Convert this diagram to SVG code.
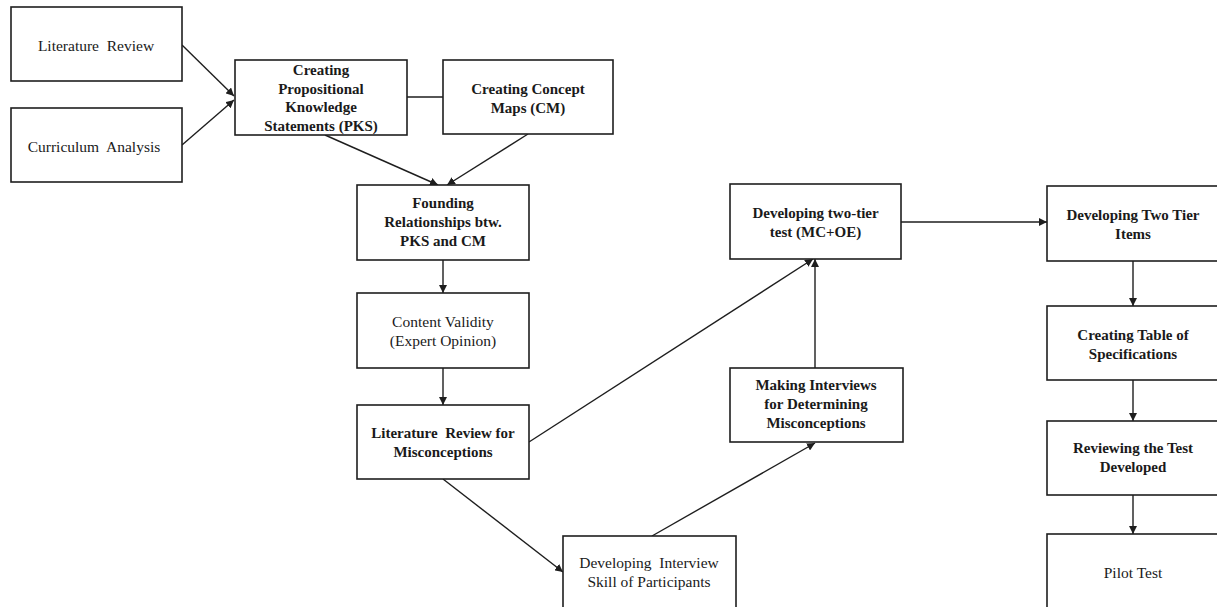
<svg xmlns="http://www.w3.org/2000/svg" width="1217" height="607" viewBox="0 0 1217 607">
<style>
.box{fill:#fff;stroke:#1e1e1e;stroke-width:1.6}
.t{font-family:"Liberation Serif","Times New Roman",serif;font-size:15.5px;fill:#1a1a1a;text-anchor:middle}
.b{font-weight:bold;font-size:15px}
.c{stroke:#1e1e1e;stroke-width:1.4;fill:none}
</style>
<defs>
<marker id="ah" viewBox="0 0 10 10" refX="10" refY="5" markerWidth="8" markerHeight="8" markerUnits="userSpaceOnUse" orient="auto">
<path d="M0,0 L10,5 L0,10 z" fill="#1e1e1e"/>
</marker>
</defs>
<rect width="1217" height="607" fill="#fff"/>
<g id="connectors">
<line class="c" x1="182" y1="45" x2="234" y2="96" marker-end="url(#ah)"/>
<line class="c" x1="182" y1="145" x2="234" y2="100" marker-end="url(#ah)"/>
<line class="c" x1="407" y1="97" x2="443" y2="97"/>
<line class="c" x1="325" y1="135" x2="438" y2="185" marker-end="url(#ah)"/>
<line class="c" x1="528" y1="134" x2="447" y2="185" marker-end="url(#ah)"/>
<line class="c" x1="443" y1="260" x2="443" y2="293" marker-end="url(#ah)"/>
<line class="c" x1="443" y1="368" x2="443" y2="405" marker-end="url(#ah)"/>
<line class="c" x1="529" y1="442" x2="813" y2="259" marker-end="url(#ah)"/>
<line class="c" x1="815" y1="368" x2="815" y2="259" marker-end="url(#ah)"/>
<line class="c" x1="443" y1="479" x2="563" y2="572" marker-end="url(#ah)"/>
<line class="c" x1="652" y1="536" x2="815" y2="443" marker-end="url(#ah)"/>
<line class="c" x1="901" y1="222" x2="1047" y2="222" marker-end="url(#ah)"/>
<line class="c" x1="1133" y1="261" x2="1133" y2="306" marker-end="url(#ah)"/>
<line class="c" x1="1133" y1="380" x2="1133" y2="421" marker-end="url(#ah)"/>
<line class="c" x1="1133" y1="495" x2="1133" y2="534" marker-end="url(#ah)"/>
</g>
<g id="lit-review"><rect class="box" x="11" y="7" width="171" height="74"/><text class="t" x="96" y="51">Literature&#160; Review</text></g>
<g id="curriculum"><rect class="box" x="11" y="108" width="171" height="74"/><text class="t" x="94" y="152">Curriculum&#160; Analysis</text></g>
<g id="pks"><rect class="box" x="235" y="60" width="172" height="75"/>
<text class="t b" x="321" y="75">Creating</text>
<text class="t b" x="321" y="93.5">Propositional</text>
<text class="t b" x="321" y="112">Knowledge</text>
<text class="t b" x="321" y="130.5">Statements (PKS)</text></g>
<g id="cm"><rect class="box" x="443" y="60" width="170" height="74"/>
<text class="t b" x="528" y="94">Creating Concept</text>
<text class="t b" x="528" y="112.5">Maps (CM)</text></g>
<g id="founding"><rect class="box" x="357" y="185" width="172" height="75"/>
<text class="t b" x="443" y="208">Founding</text>
<text class="t b" x="443" y="227">Relationships btw.</text>
<text class="t b" x="443" y="246">PKS and CM</text></g>
<g id="content-validity"><rect class="box" x="357" y="293" width="172" height="75"/>
<text class="t" x="443" y="327">Content Validity</text>
<text class="t" x="443" y="346">(Expert Opinion)</text></g>
<g id="lit-misconceptions"><rect class="box" x="357" y="405" width="172" height="74"/>
<text class="t b" x="443" y="438">Literature&#160; Review for</text>
<text class="t b" x="443" y="456.5">Misconceptions</text></g>
<g id="two-tier"><rect class="box" x="730" y="184" width="171" height="75"/>
<text class="t b" x="815.5" y="218">Developing two-tier</text>
<text class="t b" x="815.5" y="237">test (MC+OE)</text></g>
<g id="making-interviews"><rect class="box" x="730" y="368" width="173" height="74"/>
<text class="t b" x="816" y="390">Making Interviews</text>
<text class="t b" x="816" y="409">for Determining</text>
<text class="t b" x="816" y="428">Misconceptions</text></g>
<g id="interview-skill"><rect class="box" x="563" y="536" width="173" height="80"/>
<text class="t" x="649" y="568">Developing&#160; Interview</text>
<text class="t" x="649" y="587">Skill of Participants</text></g>
<g id="two-tier-items"><rect class="box" x="1047" y="186" width="190" height="75"/>
<text class="t b" x="1133" y="220">Developing Two Tier</text>
<text class="t b" x="1133" y="238.5">Items</text></g>
<g id="table-spec"><rect class="box" x="1047" y="306" width="190" height="74"/>
<text class="t b" x="1133" y="340">Creating Table of</text>
<text class="t b" x="1133" y="358.5">Specifications</text></g>
<g id="reviewing"><rect class="box" x="1047" y="421" width="190" height="74"/>
<text class="t b" x="1133" y="453">Reviewing the Test</text>
<text class="t b" x="1133" y="472">Developed</text></g>
<g id="pilot"><rect class="box" x="1047" y="534" width="190" height="90"/>
<text class="t" x="1133" y="578">Pilot Test</text></g>
</svg>
